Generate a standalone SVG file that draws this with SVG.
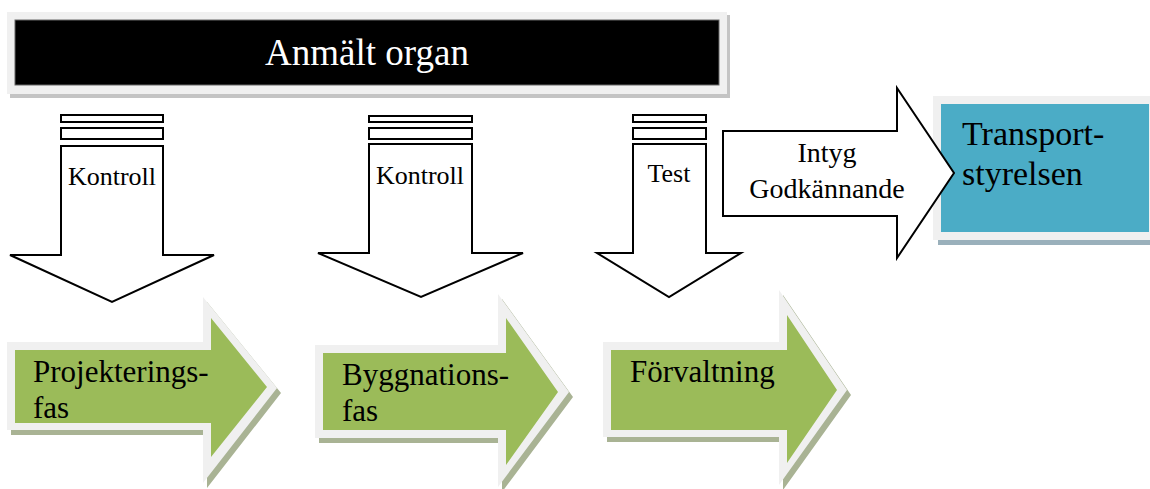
<svg xmlns="http://www.w3.org/2000/svg" width="1150" height="489" viewBox="0 0 1150 489">
  <style>
    text { font-family: "Liberation Serif", "Times New Roman", serif; fill: #000; }
    .down { fill: #fff; stroke: #000; stroke-width: 2; stroke-linejoin: miter; }
    .lbl { font-size: 26px; text-anchor: middle; }
    .frame { fill: #f0f0f0; }
    .green { fill: #9bbb59; }
    .gshadow { fill: #a9b394; }
    .phase { font-size: 31px; }
  </style>
  <rect width="1150" height="489" fill="#fff"/>

  <!-- notified body banner -->
  <g id="anmalt-organ">
    <rect x="10" y="15" width="720" height="83" fill="#c4c4c4"/>
    <rect x="7" y="12" width="720" height="82" class="frame"/>
    <rect x="15" y="20" width="704" height="65" fill="#000" stroke="#666" stroke-width="1"/>
    <text x="367" y="65" font-size="37" text-anchor="middle" style="fill:#fff">Anmält organ</text>
  </g>

  <!-- Transportstyrelsen box -->
  <g id="transportstyrelsen">
    <rect x="938" y="101" width="215" height="144" fill="#9ab0bb"/>
    <rect x="933" y="96" width="220" height="144" class="frame"/>
    <rect x="941" y="104" width="208" height="128" fill="#4bacc6"/>
    <text x="962" y="145" font-size="34">Transport-</text>
    <text x="962" y="185" font-size="34">styrelsen</text>
  </g>

  <!-- connectors: block arrows -->
  <g id="connectors">
    <g id="kontroll-1">
      <rect x="61" y="115" width="102" height="7" class="down"/>
      <rect x="61" y="128" width="102" height="11" class="down"/>
      <polygon points="61,146 163,146 163,255 214,255 112,302 10,255 61,255" class="down"/>
      <text x="112" y="185" class="lbl">Kontroll</text>
    </g>
    <g id="kontroll-2">
      <rect x="369" y="116" width="103" height="6" class="down"/>
      <rect x="369" y="128" width="103" height="11" class="down"/>
      <polygon points="369,144 472,144 472,253 523,253 421,297 318,253 369,253" class="down"/>
      <text x="420" y="184" class="lbl">Kontroll</text>
    </g>
    <g id="test">
      <rect x="633" y="115" width="73" height="7" class="down"/>
      <rect x="633" y="128" width="73" height="11" class="down"/>
      <polygon points="633,144 706,144 706,253 741,253 669,297 597,253 633,253" class="down"/>
      <text x="669" y="182" class="lbl">Test</text>
    </g>
    <g id="intyg">
      <polygon points="723,131 897,131 897,88 954,173 897,258 897,216 723,216" class="down"/>
      <text x="827" y="162" font-size="28" text-anchor="middle">Intyg</text>
      <text x="827" y="198" font-size="28" text-anchor="middle">Godkännande</text>
    </g>
  </g>

  <!-- project phases -->
  <g id="projekteringsfas">
    <polygon points="11,347 207,347 207,302 281,393 207,488 207,435 11,435" class="gshadow"/>
    <polygon points="7,342 203,342 203,297 277,388 203,483 203,430 7,430" class="frame"/>
    <polygon points="15,350 211,350 211,318 267,387 211,457 211,423 15,423" class="green"/>
    <text x="33" y="382" class="phase">Projekterings-</text>
    <text x="33" y="418" class="phase">fas</text>
  </g>
  <g id="byggnationsfas">
    <polygon points="319,350 502,350 502,299 573,397 502,492 502,443 319,443" class="gshadow"/>
    <polygon points="315,345 498,345 498,294 569,392 498,487 498,438 315,438" class="frame"/>
    <polygon points="323,353 506,353 506,318 558,392 506,465 506,430 323,430" class="green"/>
    <text x="342" y="385" class="phase">Byggnations-</text>
    <text x="342" y="421" class="phase">fas</text>
  </g>
  <g id="forvaltning">
    <polygon points="607,347 783,347 783,295 851,395 783,490 783,442 607,442" class="gshadow"/>
    <polygon points="603,342 779,342 779,290 847,390 779,485 779,437 603,437" class="frame"/>
    <polygon points="611,350 787,350 787,315 837,390 787,463 787,430 611,430" class="green"/>
    <text x="630" y="382" class="phase">Förvaltning</text>
  </g>
</svg>
